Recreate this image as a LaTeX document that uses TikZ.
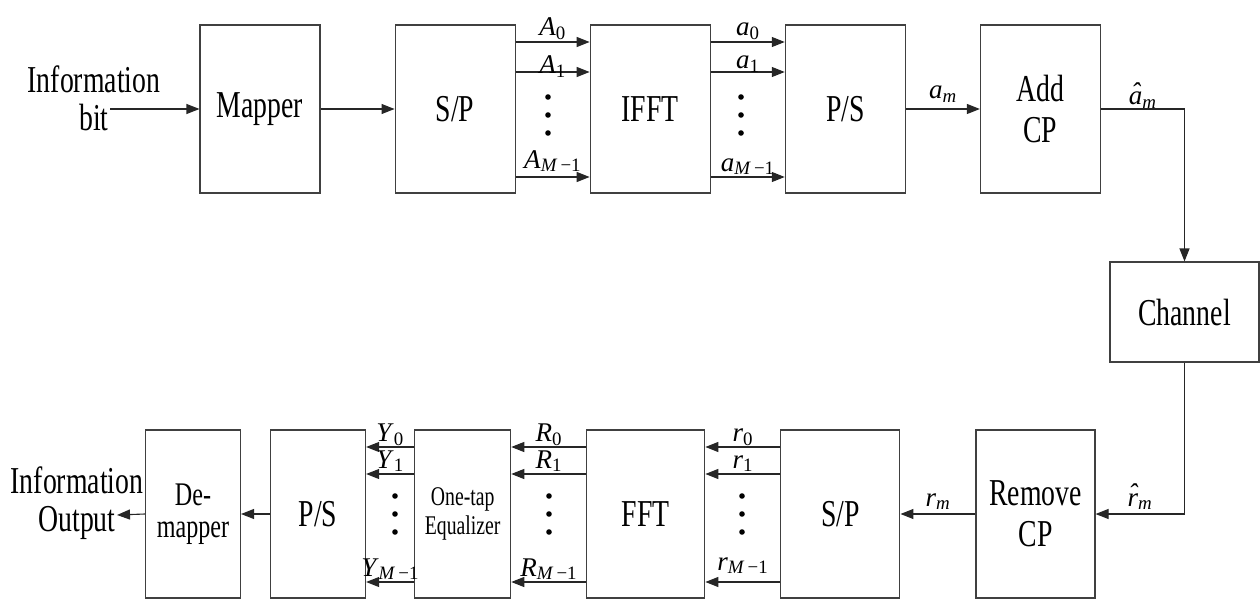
\documentclass[tikz,border=0pt]{standalone}
\usepackage{fontspec}
\setmainfont{Liberation Serif}[FakeStretch=0.73]
\newfontfamily\lblfont{Liberation Serif}
\usetikzlibrary{arrows.meta,positioning}
\newcommand{\sig}[2]{\textit{#1}\textsubscript{#2}}
\newcommand{\hatted}[1]{{\ooalign{#1\cr\hidewidth\raisebox{0.12em}{\symbol{"02C6}}\hidewidth\cr}}}

\begin{document}
\begin{tikzpicture}[
  x=1pt, y=-1pt,
  block/.style={
    rectangle,
    draw=black!75,
    line width=1.1pt,
    inner sep=0pt,
    minimum width=120pt,
    minimum height=168pt,
    align=center,
    font=\fontsize{38}{41}\selectfont
  },
  txt/.style={align=center, inner sep=0pt, font=\fontsize{38}{38}\selectfont},
  arrow/.style={-{Triangle[length=13pt,width=10pt]}, line width=1.1pt, draw=black!85},
  lbl/.style={midway, anchor=base, yshift=6pt, inner sep=0pt,
    font=\lblfont\fontsize{27}{27}\selectfont}
]
\useasboundingbox (0,0) rectangle (1260,599);

% transmitter
\node[txt] (inbit) at (94,98) {Information\\bit};
\coordinate (bitend) at (110,109);
\node[block] (mapper) at (260,109) {Mapper};
\node[block, right=74pt of mapper] (sp) {S/P};
\node[block, right=74pt of sp] (ifft) {IFFT};
\node[block, right=74pt of ifft] (ps) {P/S};
\node[block, right=74pt of ps] (addcp) {Add\\CP};

% channel
\node[block, minimum width=149pt, minimum height=100pt] (channel) at (1184.5,312) {Channel};

% receiver
\node[block, minimum width=119pt] (rmcp) at (1035.5,514) {Remove\\CP};
\node[block, minimum width=119pt, left=75pt of rmcp] (spr) {S/P};
\node[block, minimum width=118pt, left=75pt of spr] (fft) {FFT};
\node[block, minimum width=96pt, left=75pt of fft, font=\fontsize{27}{29}\selectfont] (eq) {One-tap\\Equalizer};
\node[block, minimum width=95pt, left=48pt of eq] (psr) {P/S};
\node[block, minimum width=95pt, left=29pt of psr, font=\fontsize{33}{32}\selectfont] (demap) {De-\\mapper};
\node[txt] (outbit) at (77,503) {Information\\Output};
\coordinate (outend) at (117,515);

% sub-carrier rows
\coordinate (top0) at (0,42);
\coordinate (top1) at (0,72);
\coordinate (topM) at (0,177);
\coordinate (bot0) at (0,447);
\coordinate (bot1) at (0,474);
\coordinate (botM) at (0,582);

\draw[arrow] (bitend) -- (mapper.west);
\draw[arrow] (mapper) -- (sp);

\draw[arrow] (sp.east |- top0) -- (ifft.west |- top0) node[lbl] {\sig{A}{0}};
\draw[arrow] (sp.east |- top1) -- (ifft.west |- top1) node[lbl, yshift=-8pt] {\sig{A}{1}};
\draw[arrow] (sp.east |- topM) -- (ifft.west |- topM) node[lbl, yshift=3pt] {\sig{A}{\textit{M}\,−1}};

\draw[arrow] (ifft.east |- top0) -- (ps.west |- top0) node[lbl] {\sig{a}{0}};
\draw[arrow] (ifft.east |- top1) -- (ps.west |- top1) node[lbl, yshift=-3pt] {\sig{a}{1}};
\draw[arrow] (ifft.east |- topM) -- (ps.west |- topM) node[lbl] {\sig{a}{\textit{M}\,−1}};

\draw[arrow] (ps) -- (addcp) node[lbl, yshift=4pt] {\sig{a}{\textit{m}}};
\draw[arrow] (addcp.east) -| (channel.north) node[lbl, pos=0.25, yshift=-2pt] {\sig{\hatted{a}}{\textit{m}}};
\draw[arrow] (channel.south) |- (rmcp.east) node[lbl, pos=0.75, yshift=2pt] {\sig{\hatted{r}}{\textit{m}}};
\draw[arrow] (rmcp) -- (spr) node[lbl, yshift=2pt] {\sig{r}{\textit{m}}};

\draw[arrow] (spr.west |- bot0) -- (fft.east |- bot0) node[lbl] {\sig{r}{0}};
\draw[arrow] (spr.west |- bot1) -- (fft.east |- bot1) node[lbl] {\sig{r}{1}};
\draw[arrow] (spr.west |- botM) -- (fft.east |- botM) node[lbl, yshift=6pt] {\sig{r}{\textit{M}\,−1}};

\draw[arrow] (fft.west |- bot0) -- (eq.east |- bot0) node[lbl] {\sig{R}{0}};
\draw[arrow] (fft.west |- bot1) -- (eq.east |- bot1) node[lbl] {\sig{R}{1}};
\draw[arrow] (fft.west |- botM) -- (eq.east |- botM) node[lbl] {\sig{R}{\textit{M}\,−1}};

\draw[arrow] (eq.west |- bot0) -- (psr.east |- bot0) node[lbl] {\sig{Y}{0}};
\draw[arrow] (eq.west |- bot1) -- (psr.east |- bot1) node[lbl] {\sig{Y}{1}};
\draw[arrow] (eq.west |- botM) -- (psr.east |- botM) node[lbl] {\sig{Y}{\textit{M}\,−1}};

\draw[arrow] (psr) -- (demap);
\draw[arrow] (demap.west) -- (outend);

% dots between the parallel rows
\foreach \x in {548,741}
  \foreach \y in {97,115,133}
    \fill (\x,\y) circle (2.8pt);
\foreach \x in {395,549,742}
  \foreach \y in {496,514,532}
    \fill (\x,\y) circle (2.8pt);

\end{tikzpicture}
\end{document}
